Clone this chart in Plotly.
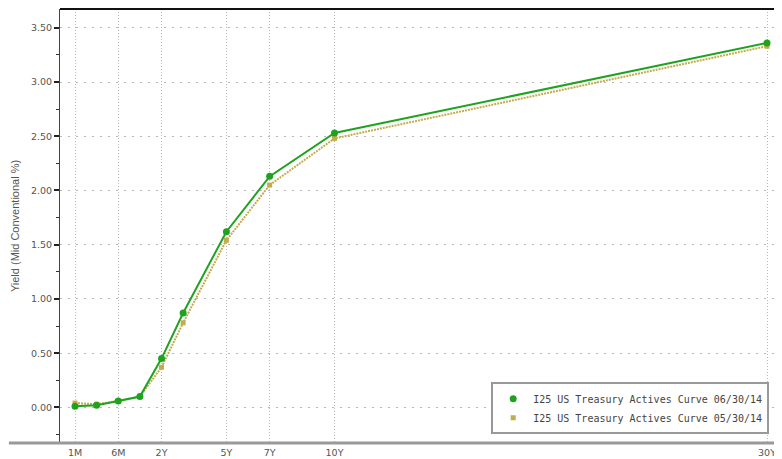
import plotly.graph_objects as go

tenors = ["1M", "3M", "6M", "1Y", "2Y", "3Y", "5Y", "7Y", "10Y", "30Y"]
tenor_pos = [-2, -1, 0, 1, 2, 3, 5, 7, 10, 30]
tick_labels = ["1M", "6M", "2Y", "5Y", "7Y", "10Y", "30Y"]
tick_pos = [-2, 0, 2, 5, 7, 10, 30]

curve_0630 = [0.01, 0.02, 0.06, 0.10, 0.45, 0.87, 1.62, 2.13, 2.53, 3.36]
curve_0530 = [0.04, 0.03, 0.06, 0.10, 0.37, 0.78, 1.54, 2.05, 2.48, 3.33]

name_0630 = "I25 US Treasury Actives Curve 06/30/14"
name_0530 = "I25 US Treasury Actives Curve 05/30/14"

GREEN = "#1fa31f"
TAN = "#c4ac4c"

fig = go.Figure()
fig.add_trace(go.Scatter(
    x=tenor_pos, y=curve_0530, name=name_0530, mode="lines+markers",
    line=dict(color=TAN, width=2, dash="2px,1px"),
    marker=dict(symbol="square", size=5, color=TAN),
    showlegend=False, customdata=tenors,
))
fig.add_trace(go.Scatter(
    x=tenor_pos, y=curve_0630, name=name_0630, mode="lines+markers",
    line=dict(color=GREEN, width=2),
    marker=dict(symbol="circle", size=7, color=GREEN),
    showlegend=False, customdata=tenors,
))
# legend-only entries (markers only, as in the reference legend)
fig.add_trace(go.Scatter(x=[None], y=[None], name=name_0630, mode="markers",
                         marker=dict(symbol="circle", size=7, color=GREEN),
                         legendrank=1))
fig.add_trace(go.Scatter(x=[None], y=[None], name=name_0530, mode="markers",
                         marker=dict(symbol="square", size=5, color=TAN),
                         legendrank=2))

fig.update_layout(
    width=774, height=451,
    margin=dict(l=52, r=2, t=1, b=16),
    paper_bgcolor="white", plot_bgcolor="white",
    font=dict(family="DejaVu Sans", size=10, color="#555555"),
    showlegend=True,
    legend=dict(
        x=0.985, y=0.02, xanchor="right", yanchor="bottom",
        bgcolor="white", bordercolor="#999999", borderwidth=2,
        font=dict(family="DejaVu Sans Mono", size=10, color="#444444"),
        itemwidth=30, tracegroupgap=0,
    ),
    xaxis=dict(
        range=[-2.694, 30.601], tickvals=tick_pos, ticktext=tick_labels,
        showgrid=True, gridcolor="#b8b8b8", griddash="1px,2px", gridwidth=1,
        zeroline=False, showline=False, ticks="", automargin=False,
        tickfont=dict(family="DejaVu Sans", size=9.5, color="#555555"),
        ticklabelstandoff=2,
    ),
    yaxis=dict(
        range=[-0.328, 3.673], tickvals=[0, 0.5, 1, 1.5, 2, 2.5, 3, 3.5],
        tickformat=".2f", automargin=False,
        showgrid=True, gridcolor="#b8b8b8", griddash="2px,6px", gridwidth=1,
        zeroline=False, showline=True, linecolor="#444444", linewidth=1,
        ticks="outside", ticklen=5, tickwidth=2, tickcolor="#222222",
        minor=dict(tickvals=[-0.25, 0.25, 0.75, 1.25, 1.75, 2.25, 2.75, 3.25],
                   ticks="outside", ticklen=3, tickwidth=1, tickcolor="#333333",
                   showgrid=False),
        tickfont=dict(family="DejaVu Sans", size=9.5, color="#555555"),
        title=dict(text="Yield (Mid Conventional %)", standoff=9,
                   font=dict(family="Liberation Sans", size=11, color="#555555")),
    ),
    shapes=[
        dict(type="line", xref="paper", yref="paper", x0=0, x1=1, y0=1, y1=1,
             line=dict(color="#111111", width=2)),
        dict(type="line", xref="paper", yref="paper", x0=1, x1=1, y0=0, y1=1,
             line=dict(color="#111111", width=2)),
        dict(type="line", xref="paper", yref="paper", x0=-0.071, x1=1, y0=0, y1=0,
             line=dict(color="#999999", width=3)),
    ],
)

fig.write_html("out.html")
